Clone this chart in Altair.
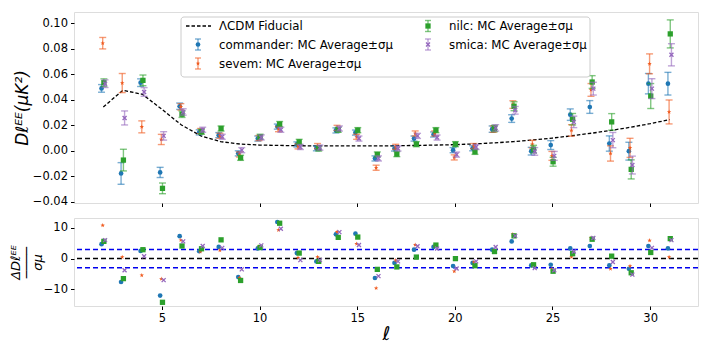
import altair as alt
import pandas as pd

ells = list(range(2, 32))
series = ["commander", "sevem", "nilc", "smica"]
colors = {"commander": "#1f77b4", "sevem": "#f05a1e", "nilc": "#2ca02c", "smica": "#9467bd"}
offsets = {"commander": -0.09, "sevem": -0.03, "nilc": 0.03, "smica": 0.09}

lcdm = [0.0344, 0.0475, 0.0444, 0.0326, 0.0203, 0.0117, 0.0072, 0.0053, 0.0045, 0.0042,
        0.0040, 0.0038, 0.0038, 0.0038, 0.0038, 0.0040, 0.0042, 0.0045, 0.0048, 0.0054,
        0.0062, 0.0072, 0.0085, 0.0100, 0.0118, 0.0138, 0.0160, 0.0185, 0.0213, 0.0245]

D = {
    "commander": [0.0490, -0.0178, 0.0535, -0.0170, 0.0350, 0.0145, 0.0123, -0.0020, 0.0096, 0.0190,
                  0.0050, 0.0020, 0.0160, 0.0143, -0.0060, 0.0018, 0.0096, 0.0128, 0.0005, 0.0020,
                  0.0170, 0.0253, -0.0003, 0.0045, 0.0284, 0.0344, 0.0057, -0.0003, 0.0527, 0.0527],
    "sevem": [0.0845, 0.0532, 0.0188, 0.0089, 0.0345, 0.0155, 0.0118, -0.0029, 0.0100, 0.0170,
              0.0035, 0.0037, 0.0180, 0.0110, -0.0133, 0.0031, 0.0136, 0.0136, -0.0052, 0.0037,
              0.0170, 0.0363, 0.0052, -0.0040, 0.0160, 0.0478, -0.0021, 0.0023, 0.0683, 0.0305],
    "nilc": [0.0535, -0.0073, 0.0553, -0.0295, 0.0287, 0.0150, 0.0175, -0.0055, 0.0110, 0.0210,
             0.0070, 0.0018, 0.0165, 0.0162, -0.0029, -0.0026, 0.0052, 0.0162, 0.0052, -0.0008,
             0.0175, 0.0350, 0.0013, -0.0086, 0.0248, 0.0540, 0.0227, -0.0146, 0.0430, 0.0918],
    "smica": [0.0527, 0.0258, 0.0462, 0.0117, 0.0305, 0.0165, 0.0110, 0.0005, 0.0105, 0.0165,
              0.0030, 0.0025, 0.0175, 0.0096, -0.0060, 0.0018, 0.0117, 0.0104, -0.0030, 0.0030,
              0.0180, 0.0318, -0.0005, -0.0040, 0.0227, 0.0488, 0.0084, -0.0112, 0.0488, 0.0754],
}

ERR = {
    "commander": [0.0030, 0.0085, 0.0030, 0.0040, 0.0025, 0.0020, 0.0020, 0.0020, 0.0020, 0.0020,
                  0.0020, 0.0020, 0.0020, 0.0020, 0.0020, 0.0020, 0.0020, 0.0020, 0.0020, 0.0020,
                  0.0025, 0.0030, 0.0030, 0.0035, 0.0045, 0.0050, 0.0060, 0.0070, 0.0080, 0.0089],
    "sevem": [0.0045, 0.0075, 0.0047, 0.0040, 0.0025, 0.0020, 0.0020, 0.0020, 0.0020, 0.0020,
              0.0020, 0.0020, 0.0020, 0.0020, 0.0020, 0.0020, 0.0020, 0.0020, 0.0020, 0.0020,
              0.0025, 0.0030, 0.0030, 0.0035, 0.0045, 0.0050, 0.0060, 0.0075, 0.0078, 0.0094],
    "nilc": [0.0030, 0.0085, 0.0042, 0.0042, 0.0025, 0.0020, 0.0020, 0.0020, 0.0020, 0.0020,
             0.0020, 0.0020, 0.0020, 0.0020, 0.0020, 0.0020, 0.0020, 0.0020, 0.0020, 0.0020,
             0.0025, 0.0035, 0.0030, 0.0035, 0.0045, 0.0050, 0.0065, 0.0075, 0.0098, 0.0110],
    "smica": [0.0030, 0.0055, 0.0034, 0.0033, 0.0025, 0.0020, 0.0020, 0.0020, 0.0020, 0.0020,
              0.0020, 0.0020, 0.0020, 0.0020, 0.0020, 0.0020, 0.0020, 0.0020, 0.0020, 0.0020,
              0.0025, 0.0030, 0.0030, 0.0035, 0.0045, 0.0050, 0.0060, 0.0070, 0.0078, 0.0087],
}

RES = {
    "commander": [4.7, -7.6, 2.5, -12.0, 7.3, 2.4, 3.8, -6.0, 3.3, 11.9,
                  1.8, -0.9, 7.9, 8.1, -6.3, -1.4, 2.9, 3.8, -2.4, -1.4,
                  2.9, 5.6, -2.2, -2.0, 3.3, 4.1, -2.2, -3.3, 4.1, 3.3],
    "sevem": [10.8, 0.5, -5.4, -6.6, 6.0, 2.3, 2.7, -6.2, 3.9, 9.3,
              0.3, 0.5, 8.7, 4.8, -9.6, -0.55, 4.5, 4.0, -4.1, -1.2,
              2.8, 7.9, -1.9, -3.3, 0.5, 6.7, -3.3, -2.4, 5.9, 0.5],
    "nilc": [5.6, -6.5, 2.9, -14.2, 4.1, 3.2, 6.1, -7.1, 3.6, 11.5,
             1.8, -0.9, 6.9, 7.0, -3.5, -2.7, 0.5, 4.4, 0.0, -2.3,
             2.3, 7.4, -2.0, -4.1, 1.6, 6.3, 0.8, -4.6, 2.0, 6.5],
    "smica": [6.0, -3.8, 0.75, -7.0, 5.6, 4.1, 3.5, -3.5, 4.3, 9.7,
              -0.5, -0.5, 8.6, 4.4, -5.7, -0.9, 4.0, 3.3, -3.2, -0.9,
              3.8, 7.4, -3.1, -3.8, 2.3, 6.7, -1.1, -5.2, 3.5, 6.0],
}

lcdm_label = "ΛCDM Fiducial"
series_labels = {s: s + ": MC Average±σμ" for s in series}
threshold_lines = [-3, 3]

FONT = "DejaVu Sans"
STAR = ("M0,-1L0.235,-0.324L0.951,-0.309L0.38,0.124L0.588,0.809L0,0.4L-0.588,0.809"
        "L-0.38,0.124L-0.951,-0.309L-0.235,-0.324Z")
XMARK = "M-1,-1L1,1M1,-1L-1,1"

xscale = alt.Scale(domain=[0.5, 32.45], nice=False, zero=False)
ytop_scale = alt.Scale(domain=[-0.041, 0.109], nice=False, zero=False)
ybot_scale = alt.Scale(domain=[-15.4, 13.2], nice=False, zero=False)

x_top_axis = alt.Axis(values=[5, 10, 15, 20, 25, 30], labels=False, title=None, ticks=True,
                      tickSize=3.5, tickColor="black", domain=False, grid=False)
x_bot_axis = alt.Axis(values=[5, 10, 15, 20, 25, 30], format="d", title="ℓ", titleFont=FONT,
                      titleFontSize=19, titleFontStyle="italic", titleFontWeight="normal",
                      titlePadding=0, labelFont=FONT, labelFontSize=11.5, labelColor="black",
                      tickSize=3.5, tickColor="black", domain=False, grid=False, labelPadding=3)
y_top_axis = alt.Axis(values=[-0.04, -0.02, 0.0, 0.02, 0.04, 0.06, 0.08, 0.10], format=".2f",
                      title="Dℓᴱᴱ(μK²)", titleFont=FONT, titleFontSize=17, titleFontStyle="italic",
                      titleFontWeight="normal", titlePadding=1, titleColor="black",
                      labelFont=FONT, labelFontSize=11.5, labelColor="black", tickSize=3.5,
                      tickColor="black", domain=False, grid=False, labelPadding=3,
                      minExtent=42, maxExtent=42)
y_bot_axis = alt.Axis(values=[-10, 0, 10], format="d",
                      title=["ΔDℓᴱᴱ", "────", "σμ"], titleFont=FONT, titleFontSize=13,
                      titleLineHeight=11, titleFontStyle="italic", titleFontWeight="normal",
                      titlePadding=2, titleColor="black",
                      labelFont=FONT, labelFontSize=11.5, labelColor="black", tickSize=3.5,
                      tickColor="black", domain=False, grid=False, labelPadding=3,
                      minExtent=28, maxExtent=28)

rows = []
for s in series:
    for i, l in enumerate(ells):
        rows.append({"series": s, "ell": l, "x": l + offsets[s], "D": D[s][i],
                     "lo": D[s][i] - ERR[s][i], "hi": D[s][i] + ERR[s][i], "res": RES[s][i]})
df = pd.DataFrame(rows)

marker = {
    "commander": dict(shape="circle", size=22, filled=True),
    "sevem": dict(shape=STAR, size=22, filled=True),
    "nilc": dict(shape="square", size=28, filled=True),
    "smica": dict(shape=XMARK, size=16, filled=False, strokeWidth=1.3),
}

# ---------- top panel ----------
lcdm_df = pd.DataFrame({"ell": ells, "lcdm": lcdm})
top_layers = [
    alt.Chart(lcdm_df).mark_line(color="black", strokeDash=[3.5, 2], strokeWidth=1.3).encode(
        x=alt.X("ell:Q", scale=xscale, axis=x_top_axis),
        y=alt.Y("lcdm:Q", scale=ytop_scale, axis=y_top_axis),
    )
]
for s in series:
    sd = df[df.series == s]
    c = colors[s]
    base = alt.Chart(sd)
    top_layers.append(base.mark_rule(color=c, opacity=0.6, strokeWidth=1.4).encode(
        x=alt.X("x:Q", scale=xscale, axis=x_top_axis),
        y=alt.Y("lo:Q", scale=ytop_scale, axis=y_top_axis), y2="hi:Q"))
    for f in ["lo", "hi"]:
        top_layers.append(base.mark_tick(color=c, opacity=0.6, orient="horizontal",
                                         size=7, thickness=1.4).encode(
            x=alt.X("x:Q", scale=xscale, axis=x_top_axis),
            y=alt.Y(f + ":Q", scale=ytop_scale, axis=y_top_axis)))
    top_layers.append(base.mark_point(color=c, opacity=1, **marker[s]).encode(
        x=alt.X("x:Q", scale=xscale, axis=x_top_axis),
        y=alt.Y("D:Q", scale=ytop_scale, axis=y_top_axis)))

# ---------- legend (drawn as decoration inside the top panel) ----------
one = pd.DataFrame({"k": [0]})
top_layers.append(alt.Chart(one).mark_rect(fill="white", fillOpacity=0.85, stroke="#cccccc",
                                           strokeWidth=1, cornerRadius=3).encode(
    x=alt.value(107), x2=alt.value(516), y=alt.value(5), y2=alt.value(65)))


def legend_text(label, tx, ty):
    return alt.Chart(one).mark_text(text=label, align="left", baseline="middle", font=FONT,
                                    fontSize=11.8, color="black").encode(
        x=alt.value(tx), y=alt.value(ty))


# ΛCDM entry
top_layers.append(alt.Chart(one).mark_rule(color="black", strokeDash=[3.5, 2], strokeWidth=1.3).encode(
    x=alt.value(112), x2=alt.value(137), y=alt.value(14)))
top_layers.append(legend_text(lcdm_label, 145, 14))

slots = {"commander": (124, 32.5), "sevem": (124, 51.5), "nilc": (354, 14), "smica": (354, 32.5)}
for s in series:
    cx, cy = slots[s]
    c = colors[s]
    top_layers.append(alt.Chart(one).mark_rule(color=c, opacity=0.6, strokeWidth=1.4).encode(
        x=alt.value(cx), y=alt.value(cy - 5.5), y2=alt.value(cy + 5.5)))
    for dy in (-5.5, 5.5):
        top_layers.append(alt.Chart(one).mark_rule(color=c, opacity=0.6, strokeWidth=1.4).encode(
            x=alt.value(cx - 3), x2=alt.value(cx + 3), y=alt.value(cy + dy)))
    top_layers.append(alt.Chart(one).mark_point(color=c, opacity=1, **marker[s]).encode(
        x=alt.value(cx), y=alt.value(cy)))
    top_layers.append(legend_text(series_labels[s], cx + 21, cy))

top = alt.layer(*top_layers).properties(width=624, height=191)

# ---------- bottom panel ----------
zero_df = pd.DataFrame({"v": [0]})
thr_df = pd.DataFrame({"v": threshold_lines})
bot_layers = [
    alt.Chart(zero_df).mark_rule(color="black", strokeDash=[5, 3], strokeWidth=1.5).encode(
        y=alt.Y("v:Q", scale=ybot_scale, axis=y_bot_axis)),
    alt.Chart(thr_df).mark_rule(color="#0000ee", strokeDash=[5, 3], strokeWidth=1.5).encode(
        y=alt.Y("v:Q", scale=ybot_scale, axis=y_bot_axis)),
]
for s in series:
    sd = df[df.series == s]
    bot_layers.append(alt.Chart(sd).mark_point(color=colors[s], opacity=1, **marker[s]).encode(
        x=alt.X("x:Q", scale=xscale, axis=x_bot_axis),
        y=alt.Y("res:Q", scale=ybot_scale, axis=y_bot_axis)))
bottom = alt.layer(*bot_layers).properties(width=624, height=88)

chart = alt.vconcat(top, bottom, spacing=9).properties(
    padding={"left": 0, "top": 3, "right": 0, "bottom": 0}
).configure_view(stroke="black", strokeWidth=1).configure(font=FONT)

chart.save("out.html", embed_options={"renderer": "svg", "actions": False})
